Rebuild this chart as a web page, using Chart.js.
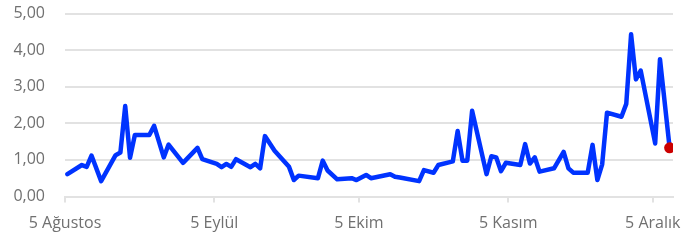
<!DOCTYPE html>
<html>
<head>
<meta charset="utf-8">
<script src="https://cdn.jsdelivr.net/npm/chart.js@4"></script>
<style>
html,body{margin:0;padding:0;background:#fff;}
#wrap{width:689px;height:244px;position:relative;}
</style>
</head>
<body>
<div id="wrap"><canvas id="c" width="689" height="244"></canvas></div>
<script>
// Days since 5 Ağustos
const days = [0.5,3.5,4.5,5.5,7.5,10.5,11.5,12.5,13.5,14.5,17.5,18.5,20.5,21.5,24.5,27.5,28.5,31.5,32.5,33.5,34.5,35.5,38.5,39.5,40.5,41.5,43.5,46.5,47.5,48.5,52.5,53.5,54.5,56.5,59.5,60.5,62.5,63.5,67.5,68.5,69.5,73.5,74.5,76.5,77.5,80.5,81.5,82.5,83.5,84.5,87.5,88.5,89.5,90.5,91.5,94.5,95.5,96.5,97.5,98.5,101.5,103.5,104.5,105.5,108.5,109.5,110.5,111.5,112.5,115.5,116.5,117.5,118.5,119.5,122.5,123.5,125.5];
const values = [0.61,0.86,0.81,1.12,0.42,1.13,1.20,2.47,1.06,1.68,1.68,1.93,1.07,1.42,0.92,1.33,1.02,0.89,0.80,0.89,0.81,1.02,0.80,0.89,0.77,1.65,1.25,0.81,0.45,0.57,0.50,0.98,0.71,0.47,0.50,0.45,0.59,0.50,0.61,0.54,0.52,0.42,0.72,0.65,0.86,0.96,1.79,0.98,0.98,2.34,0.61,1.10,1.07,0.69,0.92,0.86,1.43,0.90,1.07,0.68,0.77,1.22,0.77,0.65,0.65,1.41,0.45,0.88,2.29,2.18,2.53,4.43,3.20,3.44,1.45,3.75,1.33];
const tickDays = [0,31,61,92,122];
const tickLabels = ["5 Ağustos","5 Eylül","5 Ekim","5 Kasım","5 Aralık"];
const yTicks = [0,1,2,3,4,5];

const points = days.map((d,i)=>({x:d,y:values[i]}));
const lastIdx = points.length-1;
const FONT = {family:"'Open Sans'", size:16};
const TXT = '#707070';
const GRID = '#e2e2e2';

new Chart(document.getElementById('c'), {
  type:'line',
  data:{datasets:[{
    data:points,
    borderColor:'#0033ff',
    borderWidth:4.5,
    tension:0,
    borderJoinStyle:'round',
    borderCapStyle:'round',
    pointRadius:ctx=>ctx.dataIndex===lastIdx?5.5:0,
    pointHoverRadius:ctx=>ctx.dataIndex===lastIdx?5.5:0,
    pointBackgroundColor:'#cc0000',
    pointBorderWidth:0,
    fill:false
  }]},
  options:{
    responsive:false,
    animation:false,
    events:[],
    layout:{padding:{top:13.5,right:16,left:0,bottom:0}},
    plugins:{legend:{display:false},tooltip:{enabled:false}},
    scales:{
      x:{
        type:'linear',
        min:0,max:126.2,
        afterBuildTicks:s=>{s.ticks=tickDays.map(v=>({value:v}));},
        afterFit:s=>{s.paddingLeft=0;s.paddingRight=0;s.height=47.5;},
        grid:{drawOnChartArea:false,drawTicks:true,tickLength:6,tickColor:GRID,lineWidth:2},
        border:{display:true,color:GRID,width:2},
        ticks:{autoSkip:false,maxRotation:0,padding:11,color:TXT,font:FONT,
          callback:(v)=>{const i=tickDays.indexOf(v);return i>=0?tickLabels[i]:'';}}
      },
      y:{
        min:0,max:5,
        afterBuildTicks:s=>{s.ticks=yTicks.map(v=>({value:v}));},
        afterFit:s=>{s.width=65;s.paddingTop=0;s.paddingBottom=0;},
        grid:{color:GRID,lineWidth:2,drawTicks:false},
        border:{display:false},
        ticks:{padding:20,color:TXT,font:FONT,callback:v=>v.toFixed(2).replace('.',',')}
      }
    }
  }
});
</script>
</body>
</html>
